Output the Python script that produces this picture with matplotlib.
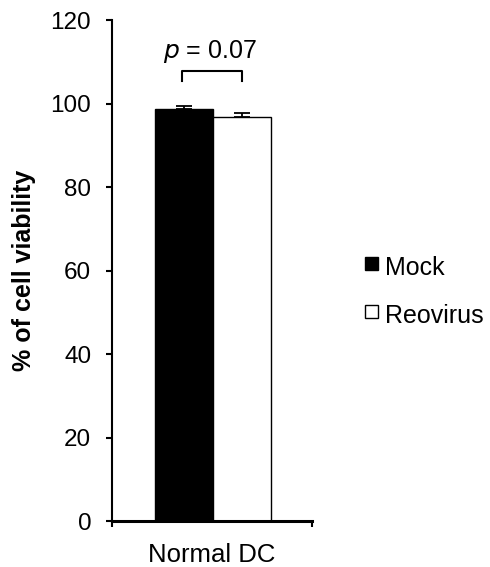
import matplotlib
matplotlib.use('Agg')
import matplotlib.pyplot as plt
from matplotlib.patches import Rectangle

plt.rcParams['font.family'] = ['Liberation Sans', 'DejaVu Sans']

groups = ['Mock', 'Reovirus']
viability = [98.6, 96.7]
errors = [0.8, 1.0]
colors = ['black', 'white']
category = 'Normal DC'
p_value = '= 0.07'
yticks = [0, 20, 40, 60, 80, 100, 120]

fig = plt.figure(figsize=(4.9, 5.67), dpi=100)
ax = fig.add_axes([0.2285, 0.0811, 0.408, 0.8836])

offsets = [-0.14, 0.1525]
width = 0.29
for off, val, err, col, name in zip(offsets, viability, errors, colors, groups):
    ax.bar(off, val, width=width, color=col, edgecolor='black', linewidth=1.0,
           yerr=[[0], [err]], capsize=6, error_kw={'elinewidth': 1.3, 'capthick': 1.3},
           label=name)

# significance bracket
ax.plot([-0.15, -0.15, 0.15, 0.15], [105.4, 107.9, 107.9, 105.4], color='black', lw=1.5)
ax.text(-0.01, 110.8, r'$\it{p}$' + ' ' + p_value, ha='center', va='baseline', fontsize=18)

ax.set_xlim(-0.5, 0.5)
ax.set_ylim(0, 120)
ax.set_yticks(yticks)
ax.tick_params(axis='y', labelsize=17.5, length=4, width=1.5, direction='out', pad=11)
ax.set_xticks([0])
ax.set_xticklabels([category], fontsize=18.5)
ax.tick_params(axis='x', length=0, pad=16)
ax.set_xticks([-0.5, 0.5], minor=True)
ax.tick_params(axis='x', which='minor', length=4, width=1.5, direction='out')

ax.spines['top'].set_visible(False)
ax.spines['right'].set_visible(False)
ax.spines['left'].set_linewidth(1.5)
ax.spines['bottom'].set_linewidth(2.2)

ax.set_ylabel('% of cell viability', fontsize=18, fontweight='bold', labelpad=10)

# legend drawn as squares + text
sq_w, sq_h = 13 / 490, 13 / 567
for col, name, ys, yt in zip(colors, groups, [0.5238, 0.439], [0.515, 0.430]):
    fig.add_artist(Rectangle((0.745, ys), sq_w, sq_h, transform=fig.transFigure,
                             facecolor=col, edgecolor='black', linewidth=1.0))
    fig.text(0.786, yt, name, fontsize=18, va='baseline', ha='left')

fig.savefig('out.png', dpi=100, facecolor='white')
